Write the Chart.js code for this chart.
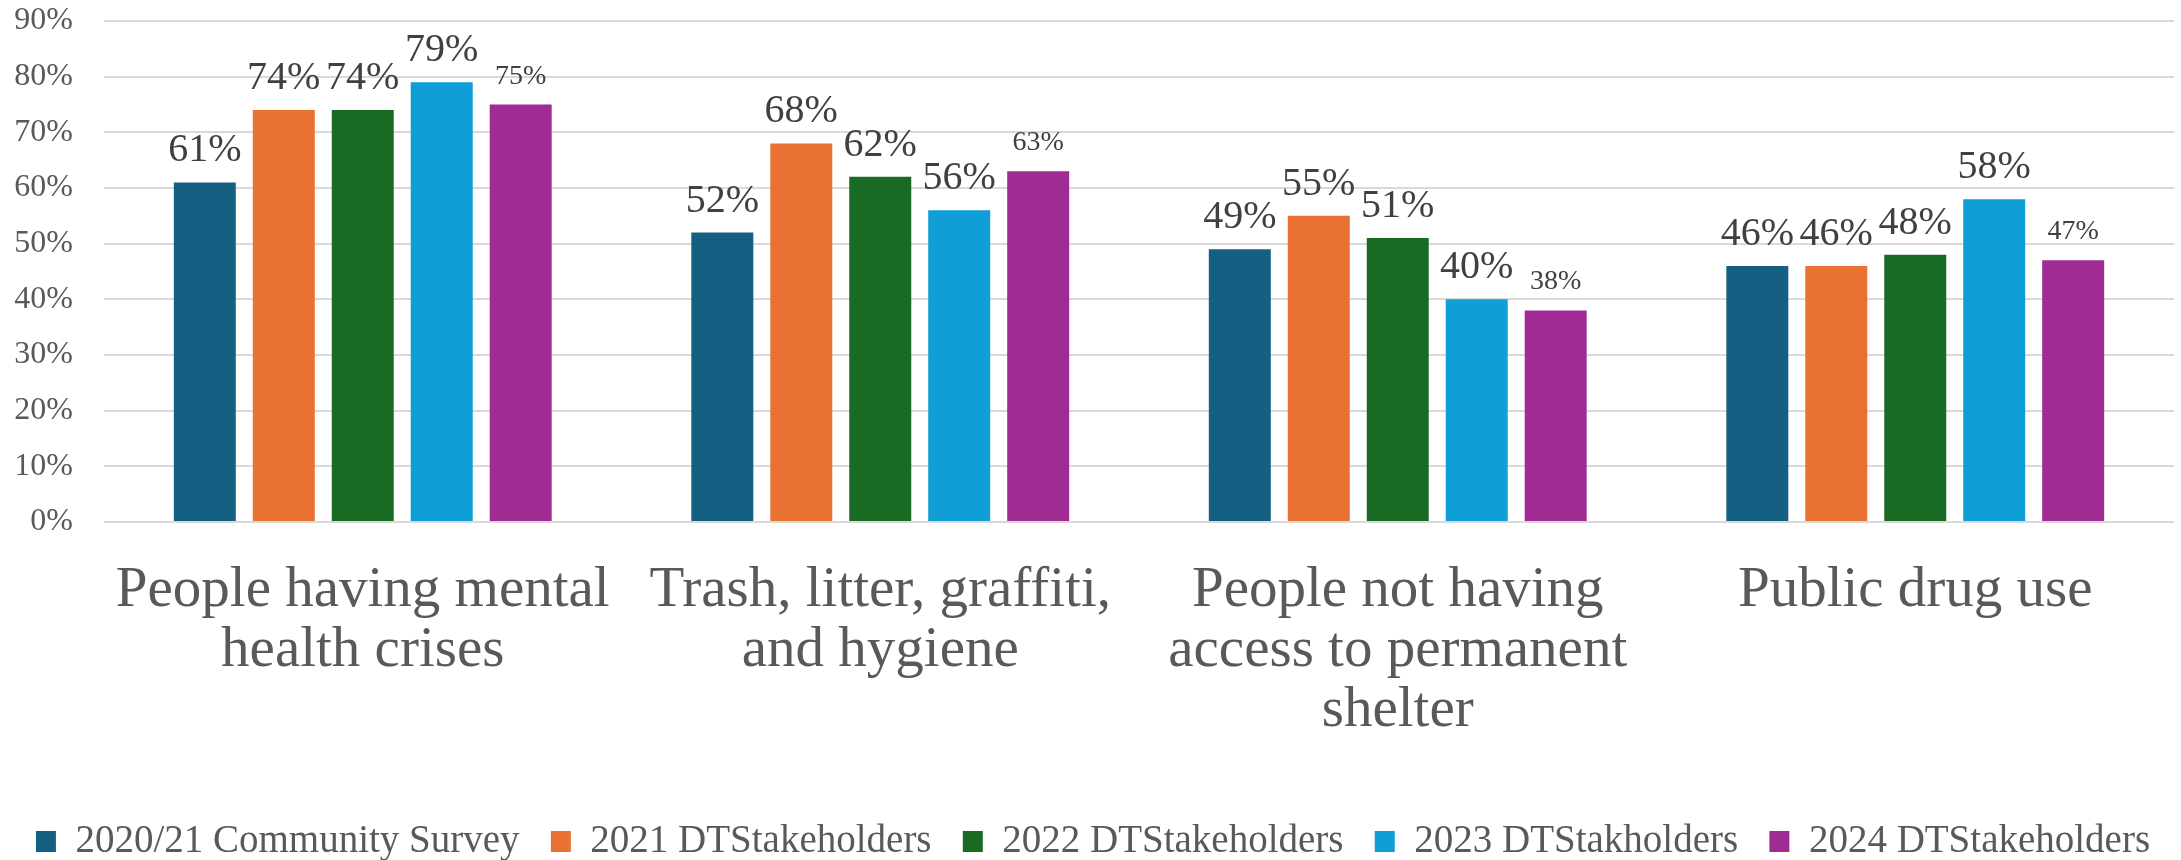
<!DOCTYPE html>
<html>
<head>
<meta charset="utf-8">
<script src="https://cdn.jsdelivr.net/npm/chart.js@4.4.1/dist/chart.umd.min.js"></script>
<style>
    html, body { margin: 0; padding: 0; background: #ffffff; }
    #wrap { width: 2181px; height: 860px; }
</style>
</head>
<body>
<div id="wrap"><canvas id="issuesChart" width="2181" height="860"></canvas></div>
<script>
const categories = [
    ["People having mental", "health crises"],
    ["Trash, litter, graffiti,", "and hygiene"],
    ["People not having", "access to permanent", "shelter"],
    ["Public drug use"]
];
const seriesNames = ["2020/21 Community Survey", "2021 DTStakeholders", "2022 DTStakeholders", "2023 DTStakholders", "2024 DTStakeholders"];
const survey2020 = [61, 52, 49, 46];
const stake2021 = [74, 68, 55, 46];
const stake2022 = [74, 62, 51, 48];
const stake2023 = [79, 56, 40, 58];
const stake2024 = [75, 63, 38, 47];
const yTicks = [0, 10, 20, 30, 40, 50, 60, 70, 80, 90];

const colors = ["#156082", "#E97132", "#196B24", "#0F9ED5", "#A02B93"];
const labelSizes = [40, 40, 40, 40, 28];
const serif = "'Liberation Serif', 'Times New Roman', serif";

// value labels above each bar
const valueLabels = {
    id: "valueLabels",
    afterDatasetsDraw(chart) {
        const ctx = chart.ctx;
        ctx.save();
        ctx.fillStyle = "#404040";
        ctx.textAlign = "center";
        ctx.textBaseline = "alphabetic";
        chart.data.datasets.forEach((ds, i) => {
            ctx.font = labelSizes[i] + "px " + serif;
            chart.getDatasetMeta(i).data.forEach((bar, j) => {
                ctx.fillText(ds.data[j] + "%", bar.x, bar.y - 21);
            });
        });
        ctx.restore();
    }
};

const allSeries = [survey2020, stake2021, stake2022, stake2023, stake2024];

new Chart(document.getElementById("issuesChart"), {
    type: "bar",
    data: {
        labels: categories,
        datasets: allSeries.map((vals, i) => ({
            label: seriesNames[i],
            data: vals,
            backgroundColor: colors[i],
            categoryPercentage: 0.763,
            barPercentage: 0.785
        }))
    },
    options: {
        responsive: false,
        animation: false,
        layout: { padding: { top: 21, left: 12, right: 7, bottom: -11 } },
        plugins: {
            legend: {
                position: "bottom",
                labels: {
                    color: "#595959",
                    font: { family: serif, size: 39, lineHeight: 1 },
                    boxWidth: 20,
                    boxHeight: 21,
                    padding: 2,
                    // widen the gap between entries
                    generateLabels(chart) {
                        const items = Chart.defaults.plugins.legend.labels.generateLabels(chart);
                        items.forEach((it, k) => {
                            if (k < items.length - 1) it.text = it.text + "   ";
                        });
                        return items;
                    }
                }
            },
            tooltip: { enabled: false }
        },
        scales: {
            x: {
                grid: { display: false },
                border: { display: false },
                ticks: {
                    color: "#595959",
                    font: { family: serif, size: 57, lineHeight: 1.05 },
                    padding: 31,
                    maxRotation: 0,
                    autoSkip: false
                },
                afterFit(scale) { scale.height = 298; }
            },
            y: {
                min: 0,
                max: 90,
                afterBuildTicks(scale) { scale.ticks = yTicks.map(v => ({ value: v })); },
                grid: { color: "#d9d9d9", lineWidth: 2, drawTicks: true, tickLength: 31, tickColor: "rgba(0,0,0,0)" },
                border: { display: false },
                ticks: {
                    color: "#595959",
                    font: { family: serif, size: 32 },
                    padding: 0,
                    callback: v => v + "%"
                },
                afterFit(scale) { scale.width = 92; }
            }
        }
    },
    plugins: [valueLabels]
});
</script>
</body>
</html>
